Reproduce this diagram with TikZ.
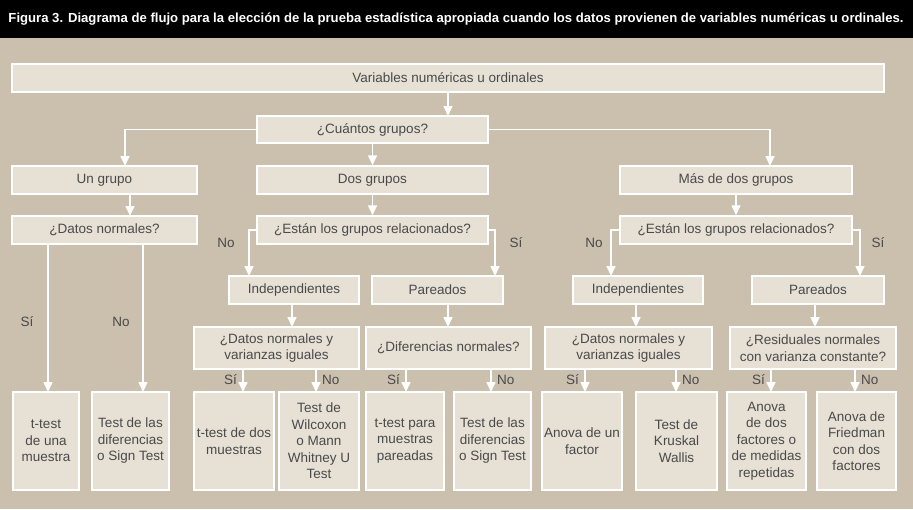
\documentclass[tikz,border=0pt]{standalone}
\usepackage{fontspec}
\setmainfont{Liberation Sans}
\usetikzlibrary{arrows.meta}
\definecolor{bg}{HTML}{CBBFAE}
\definecolor{bx}{HTML}{E6E0D5}
\definecolor{tx}{HTML}{4A4A4A}
\begin{document}
\begin{tikzpicture}[x=1pt,y=-1pt,
 bxs/.style={draw=white,line width=1.5pt,fill=bx,text=tx,font=\fontsize{13.5}{16.5}\selectfont,align=center,inner sep=0pt},
 ar/.style={draw=white,line width=1.6pt,-{Triangle[width=9pt,length=10pt]}},
 lb/.style={text=tx,font=\fontsize{13.5}{16.5}\selectfont,inner sep=0pt}]
\fill[bg] (0,0) rectangle (913,509);
\fill[black] (0,0) rectangle (913,38);
\useasboundingbox (0,0) rectangle (913,509);
\node[text=white,font=\bfseries\fontsize{12}{14}\selectfont,inner sep=0pt] (title) at (456,19) {\resizebox{895pt}{!}{Figura 3. Diagrama de flujo para la elección de la prueba estadística apropiada cuando los datos provienen de variables numéricas u ordinales.}};
\newcommand\bxat[6]{\node[bxs,minimum width=#4-#2,minimum height=#5-#3] (#1) at ({(#2+#4)/2},{(#3+#5)/2}) {#6};}
\bxat{top}{12}{64}{884}{92}{Variables numéricas u ordinales}
\bxat{cu}{257}{116}{488}{143}{¿Cuántos grupos?}
\bxat{un}{12}{166}{197}{194}{Un grupo}
\bxat{dos}{257}{166}{488}{194}{Dos grupos}
\bxat{mas}{620}{166}{852}{194}{Más de dos grupos}
\bxat{dn}{12}{216}{197}{244}{¿Datos normales?}
\bxat{e1}{257}{216}{488}{244}{¿Están los grupos relacionados?}
\bxat{e2}{620}{216}{852}{244}{¿Están los grupos relacionados?}
\bxat{i1}{229}{276}{359}{304}{Independientes}
\bxat{p1}{372}{276}{503}{304}{Pareados}
\bxat{i2}{573}{276}{703}{304}{Independientes}
\bxat{p2}{752}{276}{884}{304}{Pareados}
\bxat{q1}{194}{327}{359}{369}{¿Datos normales y\\varianzas iguales}
\bxat{q2}{366}{327}{531}{369}{¿Diferencias normales?}
\bxat{q3}{545}{327}{712}{369}{¿Datos normales y\\varianzas iguales}
\bxat{q4}{730}{327}{896}{369}{¿Residuales normales\\con varianza constante?}
\bxat{b1}{13}{392}{79}{490}{t-test\\de una\\muestra}
\bxat{b2}{92}{392}{169}{490}{Test de las\\diferencias\\o Sign Test}
\bxat{b3}{194}{392}{274}{490}{t-test de dos\\muestras}
\bxat{b4}{279}{392}{359}{490}{Test de\\Wilcoxon\\o Mann\\Whitney U\\Test}
\bxat{b5}{366}{392}{444}{490}{t-test para\\muestras\\pareadas}
\bxat{b6}{454}{392}{531}{490}{Test de las\\diferencias\\o Sign Test}
\bxat{b7}{542}{392}{622}{490}{Anova de un\\factor}
\bxat{b8}{636}{392}{717}{490}{Test de\\Kruskal\\Wallis}
\bxat{b9}{727}{392}{806}{490}{Anova\\de dos\\factores o\\de medidas\\repetidas}
\bxat{b10}{817}{392}{896}{490}{Anova de\\Friedman\\con dos\\factores}
% arrows
\draw[ar] (448,92) -- (448,116);
\draw[ar] (cu.west) -| (125,166);
\draw[ar] (cu.east) -| (770,166);
\draw[ar] (cu.south) -- (dos.north);
\draw[ar] (130,194) -- (130,216);
\draw[ar] (dos.south) -- (e1.north);
\draw[ar] (mas.south) -- (mas.south|-e2.north);
\draw[ar] (e1.west) -| (249,276);
\draw[ar] (e1.east) -| (495,276);
\draw[ar] (e2.west) -| (611,276);
\draw[ar] (e2.east) -| (860,276);
\draw[ar] (48,244) -- (48,392);
\draw[ar] (143,244) -- (143,392);
\draw[ar] (292,304) -- (292,327);
\draw[ar] (448,304) -- (448,327);
\draw[ar] (636,304) -- (636,327);
\draw[ar] (815,304) -- (815,327);
\foreach \a/\b in {243/316,406/491,585/676,771/855}{
 \draw[ar] (\a,369) -- (\a,392);
 \draw[ar] (\b,369) -- (\b,392);
 \node[lb,anchor=east] at (\a-6,380) {Sí};
 \node[lb,anchor=west] at (\b+6,380) {No};}
\node[lb] (l1) at (27,322) {Sí};
\node[lb] (l2) at (121,322) {No};
\node[lb] (l3) at (226,243) {No};
\node[lb] (l4) at (516,243) {Sí};
\node[lb] (l5) at (594,243) {No};
\node[lb] (l6) at (878,243) {Sí};
\end{tikzpicture}
\end{document}
